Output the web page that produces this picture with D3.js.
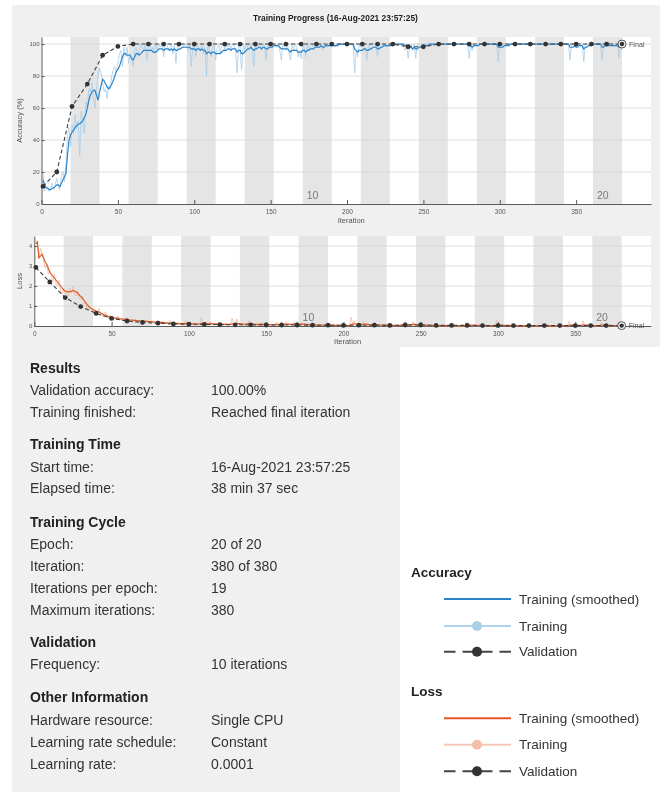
<!DOCTYPE html>
<html><head><meta charset="utf-8">
<script src="https://cdn.jsdelivr.net/npm/d3@7"></script>
<style>body{margin:0;background:#fff;} svg{display:block;font-family:"Liberation Sans",Arial,sans-serif;will-change:transform;}</style>
</head><body><svg id="c" width="664" height="792"></svg>
<script>
// ---------------- DATA ----------------
const itersPerEpoch = 19;
const maxEpochs = 20;
const epochLabels = [10, 20];
const accTicks = [0, 20, 40, 60, 80, 100];
const lossTicks = [0, 1, 2, 3, 4];
const iterTicks = [0, 50, 100, 150, 200, 250, 300, 350];

const accTrainRaw = [
 19, 8, 9, 11, 8, 10, 13, 9, 12, 16, 11, 9, 17, 20, 14, 25, 42, 48, 36,
 50, 44, 56, 47, 52, 30, 58, 50, 44, 64, 60, 72, 70, 76, 66, 60, 72, 80, 85,
 82, 76, 70, 72, 66, 74, 72, 80, 84, 86, 82, 88, 94, 96, 86, 98, 92, 98, 88,
 94, 90, 86, 96, 98, 92, 96, 100, 98, 96, 100, 90, 98, 100, 96, 98, 94, 100, 96,
 100, 98, 100, 92, 100, 100, 96, 98, 100, 94, 100, 88, 100, 98, 100, 100, 98, 100, 100,
 96, 100, 86, 98, 100, 92, 100, 98, 96, 100, 94, 98, 80, 100, 96, 92, 98, 100, 90,
 98, 100, 94, 100, 100, 96, 100, 98, 100, 96, 100, 100, 96, 82, 100, 98, 84, 100, 96,
 100, 98, 100, 100, 96, 86, 100, 98, 100, 100, 96, 100, 98, 90, 100, 100, 98, 100, 100,
 100, 98, 100, 96, 90, 100, 98, 96, 100, 94, 90, 100, 96, 100, 98, 92, 96, 91, 100,
 98, 92, 100, 96, 100, 100, 98, 100, 100, 98, 100, 100, 96, 100, 100, 98, 100, 100, 100,
 100, 98, 100, 100, 100, 100, 100, 100, 100, 100, 100, 100, 100, 100, 82, 96, 92, 100, 98,
 100, 100, 96, 90, 100, 98, 100, 100, 100, 98, 92, 100, 100, 100, 100, 100, 98, 100, 100,
 100, 100, 100, 100, 100, 100, 100, 100, 98, 96, 100, 91, 98, 100, 96, 100, 91, 100, 100,
 98, 100, 100, 100, 100, 100, 100, 100, 100, 100, 100, 100, 100, 100, 100, 100, 100, 100, 100,
 100, 100, 100, 100, 100, 100, 100, 100, 100, 100, 100, 100, 100, 91, 100, 96, 100, 100, 100,
 100, 100, 100, 100, 100, 100, 100, 100, 100, 100, 100, 100, 100, 89, 100, 98, 100, 100, 100,
 100, 100, 100, 100, 100, 100, 100, 100, 100, 100, 100, 100, 100, 100, 100, 100, 100, 100, 100,
 100, 100, 100, 100, 100, 100, 100, 100, 100, 100, 100, 100, 100, 100, 100, 100, 100, 100, 100,
 100, 100, 100, 90, 100, 100, 100, 98, 100, 100, 100, 100, 89, 100, 100, 100, 100, 100, 100,
 100, 100, 100, 100, 100, 90, 100, 100, 100, 100, 100, 100, 100, 100, 100, 100, 91, 100, 96
];
const accTrainSmooth = [
 15, 12, 10, 10, 9, 9, 10, 10, 11, 12, 12, 11, 13, 15, 17, 19, 30, 40, 43,
 45, 46, 48, 49, 50, 50, 51, 52, 54, 56, 60, 65, 68, 70, 71, 71, 68, 65, 70,
 74, 78, 77, 75, 73, 72, 73, 75, 77, 80, 83, 84, 86, 89, 92, 94, 94, 93, 93,
 93, 91, 90, 92, 94, 94, 93, 94, 95, 96, 96, 96, 96, 96, 96, 95, 95, 95, 96,
 97, 97, 97, 96, 97, 97, 97, 96, 97, 96, 97, 96, 96, 97, 97, 98, 98, 98, 98,
 98, 98, 97, 97, 97, 96, 97, 97, 96, 97, 96, 96, 94, 95, 95, 94, 95, 95, 94,
 94, 94, 94, 95, 96, 96, 96, 97, 97, 96, 97, 97, 97, 95, 96, 96, 94, 94, 95,
 96, 97, 97, 98, 97, 96, 97, 97, 98, 98, 97, 98, 98, 97, 97, 98, 98, 98, 99,
 99, 99, 99, 98, 97, 97, 97, 97, 97, 96, 95, 96, 96, 96, 96, 95, 95, 95, 96,
 96, 95, 96, 96, 97, 97, 97, 98, 98, 98, 98, 99, 98, 98, 99, 99, 99, 99, 99,
 99, 99, 99, 99, 100, 100, 100, 100, 100, 100, 100, 100, 100, 100, 97, 96, 95, 96, 96,
 96, 97, 97, 96, 96, 97, 97, 98, 98, 98, 97, 97, 98, 98, 99, 99, 99, 99, 99,
 99, 100, 100, 100, 100, 100, 100, 100, 100, 99, 99, 98, 98, 98, 97, 98, 97, 97, 98,
 98, 98, 98, 99, 99, 99, 100, 100, 100, 100, 100, 100, 100, 100, 100, 100, 100, 100, 100,
 100, 100, 100, 100, 100, 100, 100, 100, 100, 100, 100, 100, 100, 99, 99, 98, 99, 99, 99,
 99, 100, 100, 100, 100, 100, 100, 100, 100, 100, 100, 100, 100, 98, 98, 98, 98, 99, 99,
 99, 99, 100, 100, 100, 100, 100, 100, 100, 100, 100, 100, 100, 100, 100, 100, 100, 100, 100,
 100, 100, 100, 100, 100, 100, 100, 100, 100, 100, 100, 100, 100, 100, 100, 100, 100, 100, 100,
 100, 100, 100, 98, 98, 98, 99, 98, 98, 99, 99, 99, 97, 98, 98, 99, 99, 99, 100,
 100, 100, 100, 100, 100, 98, 98, 99, 99, 99, 99, 99, 99, 99, 99, 99, 98, 98, 98
];
const lossTrainRaw = [
 4.3, 4.1, 3.4, 3.9, 3.6, 3.3, 2.9, 3.1, 2.6, 2.8, 2.5, 2.2, 2.6, 2.1, 2.0, 2.3, 1.7, 1.6, 1.9,
 1.6, 1.8, 1.5, 1.9, 1.7, 2.0, 1.6, 1.5, 1.8, 1.4, 1.3, 1.5, 1.1, 1.2, 0.9, 1.0, 0.8, 0.9, 0.7,
 0.8, 0.6, 0.75, 0.9, 0.5, 0.6, 0.45, 0.7, 0.5, 0.35, 0.55, 0.4, 0.3, 0.45, 0.35, 0.5, 0.3, 0.4, 0.25,
 0.35, 0.25, 0.4, 0.2, 0.3, 0.25, 0.2, 0.35, 0.15, 0.25, 0.3, 0.2, 0.15, 0.25, 0.2, 0.3, 0.15, 0.2, 0.25,
 0.1, 0.2, 0.15, 0.3, 0.1, 0.15, 0.2, 0.12, 0.1, 0.2, 0.08, 0.3, 0.1, 0.12, 0.08, 0.1, 0.15, 0.07, 0.1,
 0.15, 0.06, 0.3, 0.08, 0.05, 0.2, 0.07, 0.1, 0.12, 0.05, 0.15, 0.08, 0.45, 0.06, 0.1, 0.2, 0.08, 0.05, 0.25,
 0.06, 0.04, 0.12, 0.05, 0.04, 0.1, 0.05, 0.06, 0.04, 0.12, 0.05, 0.06, 0.1, 0.4, 0.05, 0.08, 0.35, 0.06, 0.1,
 0.05, 0.06, 0.04, 0.05, 0.1, 0.3, 0.04, 0.06, 0.03, 0.05, 0.1, 0.04, 0.06, 0.2, 0.03, 0.04, 0.06, 0.03, 0.04,
 0.03, 0.05, 0.03, 0.1, 0.2, 0.03, 0.05, 0.1, 0.03, 0.15, 0.22, 0.04, 0.1, 0.03, 0.06, 0.2, 0.1, 0.22, 0.04,
 0.05, 0.18, 0.04, 0.1, 0.03, 0.02, 0.06, 0.02, 0.03, 0.05, 0.02, 0.03, 0.1, 0.02, 0.02, 0.05, 0.02, 0.02, 0.03,
 0.02, 0.05, 0.02, 0.02, 0.01, 0.02, 0.02, 0.01, 0.02, 0.01, 0.02, 0.02, 0.01, 0.02, 0.45, 0.12, 0.25, 0.03, 0.08,
 0.02, 0.03, 0.1, 0.25, 0.02, 0.05, 0.02, 0.02, 0.01, 0.05, 0.2, 0.02, 0.02, 0.01, 0.02, 0.01, 0.05, 0.02, 0.01,
 0.01, 0.02, 0.01, 0.01, 0.02, 0.01, 0.01, 0.02, 0.05, 0.1, 0.02, 0.25, 0.05, 0.02, 0.1, 0.02, 0.22, 0.02, 0.03,
 0.05, 0.02, 0.01, 0.02, 0.01, 0.01, 0.02, 0.01, 0.01, 0.02, 0.01, 0.01, 0.01, 0.02, 0.01, 0.01, 0.01, 0.01, 0.02,
 0.01, 0.01, 0.02, 0.01, 0.01, 0.01, 0.01, 0.02, 0.01, 0.01, 0.01, 0.01, 0.03, 0.2, 0.02, 0.1, 0.02, 0.01, 0.01,
 0.01, 0.01, 0.01, 0.01, 0.01, 0.01, 0.01, 0.01, 0.01, 0.01, 0.01, 0.01, 0.01, 0.28, 0.02, 0.06, 0.01, 0.01, 0.02,
 0.01, 0.02, 0.01, 0.01, 0.01, 0.01, 0.02, 0.01, 0.01, 0.01, 0.01, 0.01, 0.01, 0.02, 0.01, 0.01, 0.01, 0.01, 0.01,
 0.01, 0.01, 0.01, 0.01, 0.01, 0.01, 0.01, 0.01, 0.01, 0.01, 0.01, 0.01, 0.01, 0.01, 0.01, 0.01, 0.01, 0.01, 0.01,
 0.01, 0.01, 0.01, 0.25, 0.01, 0.02, 0.01, 0.06, 0.01, 0.01, 0.01, 0.01, 0.26, 0.02, 0.01, 0.01, 0.01, 0.01, 0.01,
 0.01, 0.01, 0.01, 0.01, 0.01, 0.24, 0.02, 0.01, 0.01, 0.01, 0.01, 0.01, 0.01, 0.01, 0.01, 0.01, 0.22, 0.02, 0.1
];
const lossTrainSmooth = [
 4.1, 4.2, 3.4, 3.5, 3.6, 3.4, 3.2, 3.1, 2.9, 2.7, 2.6, 2.5, 2.4, 2.3, 2.2, 2.1, 2.0, 1.9, 1.8,
 1.75, 1.72, 1.7, 1.72, 1.72, 1.78, 1.75, 1.7, 1.65, 1.55, 1.48, 1.4, 1.3, 1.2, 1.08, 1.0, 0.92, 0.88, 0.82,
 0.78, 0.74, 0.72, 0.7, 0.65, 0.61, 0.56, 0.55, 0.51, 0.47, 0.45, 0.43, 0.41, 0.4, 0.39, 0.39, 0.37, 0.36, 0.35,
 0.34, 0.33, 0.33, 0.31, 0.3, 0.3, 0.28, 0.28, 0.27, 0.26, 0.26, 0.25, 0.24, 0.24, 0.23, 0.23, 0.22, 0.22, 0.22,
 0.21, 0.2, 0.19, 0.2, 0.19, 0.18, 0.18, 0.17, 0.16, 0.16, 0.15, 0.16, 0.15, 0.15, 0.14, 0.13, 0.13, 0.12, 0.12,
 0.12, 0.11, 0.13, 0.12, 0.11, 0.12, 0.11, 0.11, 0.11, 0.1, 0.1, 0.1, 0.13, 0.12, 0.12, 0.13, 0.12, 0.11, 0.12,
 0.12, 0.11, 0.11, 0.1, 0.1, 0.1, 0.09, 0.09, 0.08, 0.09, 0.08, 0.08, 0.08, 0.11, 0.1, 0.1, 0.13, 0.12, 0.12,
 0.11, 0.1, 0.1, 0.09, 0.09, 0.11, 0.1, 0.1, 0.09, 0.08, 0.08, 0.08, 0.08, 0.09, 0.08, 0.08, 0.07, 0.07, 0.07,
 0.07, 0.06, 0.06, 0.07, 0.08, 0.07, 0.07, 0.07, 0.07, 0.08, 0.09, 0.09, 0.09, 0.08, 0.08, 0.09, 0.09, 0.1, 0.1,
 0.09, 0.1, 0.09, 0.09, 0.08, 0.08, 0.07, 0.07, 0.06, 0.06, 0.06, 0.05, 0.06, 0.05, 0.05, 0.05, 0.05, 0.04, 0.04,
 0.04, 0.04, 0.04, 0.04, 0.03, 0.03, 0.03, 0.03, 0.03, 0.02, 0.02, 0.02, 0.02, 0.02, 0.08, 0.09, 0.11, 0.1, 0.1,
 0.09, 0.08, 0.08, 0.1, 0.09, 0.09, 0.08, 0.07, 0.06, 0.06, 0.08, 0.07, 0.06, 0.06, 0.05, 0.05, 0.05, 0.04, 0.04,
 0.04, 0.03, 0.03, 0.03, 0.03, 0.02, 0.02, 0.02, 0.03, 0.04, 0.04, 0.06, 0.06, 0.06, 0.07, 0.06, 0.08, 0.08, 0.07,
 0.07, 0.06, 0.06, 0.05, 0.05, 0.04, 0.04, 0.04, 0.03, 0.03, 0.03, 0.03, 0.02, 0.02, 0.02, 0.02, 0.02, 0.02, 0.02,
 0.02, 0.02, 0.02, 0.02, 0.02, 0.01, 0.01, 0.01, 0.01, 0.01, 0.01, 0.01, 0.01, 0.04, 0.04, 0.05, 0.04, 0.04, 0.04,
 0.03, 0.03, 0.03, 0.02, 0.02, 0.02, 0.02, 0.02, 0.02, 0.02, 0.01, 0.01, 0.01, 0.05, 0.05, 0.05, 0.04, 0.04, 0.03,
 0.03, 0.03, 0.03, 0.02, 0.02, 0.02, 0.02, 0.02, 0.02, 0.02, 0.01, 0.01, 0.01, 0.01, 0.01, 0.01, 0.01, 0.01, 0.01,
 0.01, 0.01, 0.01, 0.01, 0.01, 0.01, 0.01, 0.01, 0.01, 0.01, 0.01, 0.01, 0.01, 0.01, 0.01, 0.01, 0.01, 0.01, 0.01,
 0.01, 0.01, 0.01, 0.05, 0.04, 0.04, 0.03, 0.04, 0.03, 0.03, 0.03, 0.02, 0.06, 0.05, 0.05, 0.04, 0.03, 0.03, 0.03,
 0.02, 0.02, 0.02, 0.02, 0.02, 0.06, 0.05, 0.04, 0.04, 0.03, 0.03, 0.03, 0.02, 0.02, 0.02, 0.02, 0.06, 0.05, 0.06
];
const valIter = [1, 10, 20, 30, 40, 50, 60, 70, 80, 90, 100, 110, 120, 130, 140, 150, 160, 170, 180, 190,
 200, 210, 220, 230, 240, 250, 260, 270, 280, 290, 300, 310, 320, 330, 340, 350, 360, 370, 380];
const valAcc = [11, 20, 61, 75, 93, 98.5, 100, 100, 100, 100, 100, 100, 100, 100, 100, 100, 100, 100, 100, 100,
 100, 100, 100, 100, 98.3, 98.3, 100, 100, 100, 100, 100, 100, 100, 100, 100, 100, 100, 100, 100];
const valLoss = [2.93, 2.2, 1.42, 0.97, 0.63, 0.38, 0.25, 0.18, 0.14, 0.1, 0.09, 0.08, 0.07, 0.06, 0.06, 0.05, 0.05, 0.05, 0.04, 0.04,
 0.03, 0.04, 0.04, 0.03, 0.05, 0.05, 0.03, 0.03, 0.03, 0.02, 0.02, 0.02, 0.02, 0.02, 0.02, 0.02, 0.02, 0.02, 0.02];

const infoSections = [
 {title: "Results", y: 368.3, rows: [["Validation accuracy:", "100.00%", 390], ["Training finished:", "Reached final iteration", 412.3]]},
 {title: "Training Time", y: 444.3, rows: [["Start time:", "16-Aug-2021 23:57:25", 466.7], ["Elapsed time:", "38 min 37 sec", 488.3]]},
 {title: "Training Cycle", y: 521.7, rows: [["Epoch:", "20 of 20", 544], ["Iteration:", "380 of 380", 566], ["Iterations per epoch:", "19", 588.3], ["Maximum iterations:", "380", 610]]},
 {title: "Validation", y: 642.3, rows: [["Frequency:", "10 iterations", 664.3]]},
 {title: "Other Information", y: 697.3, rows: [["Hardware resource:", "Single CPU", 720], ["Learning rate schedule:", "Constant", 742], ["Learning rate:", "0.0001", 764]]}
];

// ---------------- DRAW ----------------
const svg = d3.select("#c");
const FONT = '"Liberation Sans", Arial, sans-serif';
svg.append("rect").attr("x", 12).attr("y", 5).attr("width", 648).attr("height", 342).attr("fill", "#f0f0f0");
svg.append("rect").attr("x", 12).attr("y", 347).attr("width", 388).attr("height", 445).attr("fill", "#f0f0f0");

svg.append("text").attr("x", 335.5).attr("y", 21).attr("text-anchor", "middle")
  .attr("font-size", 8.4).attr("font-weight", "bold").attr("fill", "#222")
  .text("Training Progress (16-Aug-2021 23:57:25)");

const xMax = 399;
const epochs = d3.range(1, maxEpochs + 1);

function panel(cfg) {
  const x = d3.scaleLinear().domain([0, xMax]).range([cfg.x0, cfg.x1]);
  const y = d3.scaleLinear().domain(cfg.yDomain).range([cfg.y1, cfg.y0]);
  const g = svg.append("g");
  g.append("rect").attr("x", cfg.x0).attr("y", cfg.y0).attr("width", cfg.x1 - cfg.x0)
    .attr("height", cfg.y1 - cfg.y0).attr("fill", "#fff");
  g.selectAll("rect.band").data(epochs.filter(e => e % 2 === 0)).join("rect").attr("class", "band")
    .attr("x", e => x((e - 1) * itersPerEpoch)).attr("width", e => x(e * itersPerEpoch) - x((e - 1) * itersPerEpoch))
    .attr("y", cfg.y0).attr("height", cfg.y1 - cfg.y0).attr("fill", "#e5e5e5");
  g.selectAll("line.grid").data(cfg.ticks.filter(t => t > 0)).join("line").attr("class", "grid")
    .attr("x1", cfg.x0).attr("x2", cfg.x1).attr("y1", d => y(d)).attr("y2", d => y(d))
    .attr("stroke", "#d6d6d6").attr("stroke-width", 0.8);
  g.selectAll("text.ep").data(epochLabels).join("text").attr("class", "ep")
    .attr("x", e => x((e - 1) * itersPerEpoch) + 4).attr("y", cfg.y1 - 5)
    .attr("font-size", 10.5).attr("fill", "#7a7a7a").text(d => d);

  const xa = d3.axisBottom(x).tickValues(iterTicks).tickFormat(d3.format("d")).tickSize(-4).tickSizeOuter(0).tickPadding(5);
  const ga = g.append("g").attr("transform", `translate(0,${cfg.y1})`).call(xa);
  ga.select(".domain").attr("stroke", "#5a5a5a");
  ga.selectAll(".tick line").attr("stroke", "#5a5a5a");
  ga.selectAll("text").attr("font-size", 6.5).attr("fill", "#555").attr("font-family", FONT);
  const ya = d3.axisLeft(y).tickValues(cfg.ticks).tickFormat(d3.format("d")).tickSize(-3).tickSizeOuter(0).tickPadding(2);
  const gy = g.append("g").attr("transform", `translate(${cfg.x0},0)`).call(ya);
  gy.select(".domain").attr("stroke", "#5a5a5a");
  gy.selectAll(".tick line").attr("stroke", "#5a5a5a");
  gy.selectAll("text").attr("font-size", 6).attr("fill", "#555").attr("font-family", FONT);

  g.append("text").attr("x", (cfg.x0 + cfg.x1) / 2 + 5).attr("y", cfg.xLabelY).attr("text-anchor", "middle")
    .attr("font-size", 7.5).attr("fill", "#555").text("Iteration");
  g.append("text").attr("transform", `translate(${cfg.yLabelX},${(cfg.y0 + cfg.y1) / 2}) rotate(-90)`)
    .attr("text-anchor", "middle").attr("font-size", 7.5).attr("fill", "#555").text(cfg.yLabel);

  const line = d3.line().x((d, i) => x(i + 1)).y(d => y(d));
  g.append("path").datum(cfg.raw).attr("d", line).attr("fill", "none")
    .attr("stroke", cfg.rawColor).attr("stroke-width", 0.8);
  g.append("path").datum(cfg.smooth).attr("d", line).attr("fill", "none")
    .attr("stroke", cfg.smoothColor).attr("stroke-width", 1.2);
  const vline = d3.line().x((d, i) => x(valIter[i])).y(d => y(d));
  g.append("path").datum(cfg.val).attr("d", vline).attr("fill", "none")
    .attr("stroke", "#404040").attr("stroke-width", 1.1).attr("stroke-dasharray", "4,2.5");
  g.selectAll("circle.v").data(cfg.val.slice(0, -1)).join("circle").attr("class", "v")
    .attr("cx", (d, i) => x(valIter[i])).attr("cy", d => y(d)).attr("r", 2.4).attr("fill", "#333");
  const last = cfg.val.length - 1;
  const fx = x(valIter[last]), fy = y(cfg.val[last]);
  g.append("circle").attr("cx", fx).attr("cy", fy).attr("r", 4).attr("fill", "#f4f4f4")
    .attr("stroke", "#444").attr("stroke-width", 0.9);
  g.append("circle").attr("cx", fx).attr("cy", fy).attr("r", 2.2).attr("fill", "#333");
  g.append("text").attr("x", fx + 7).attr("y", fy).attr("dy", "0.35em").attr("font-size", 7.2)
    .attr("fill", "#555").text("Final");
}

panel({x0: 41.5, x1: 651, y0: 37, y1: 204, yDomain: [0, 104.4], ticks: accTicks,
  raw: accTrainRaw, smooth: accTrainSmooth, val: valAcc, rawColor: "#a7cdea", smoothColor: "#2a84cc",
  yLabel: "Accuracy (%)", yLabelX: 22, xLabelY: 223});
panel({x0: 34.3, x1: 651, y0: 236, y1: 326, yDomain: [0, 4.5], ticks: lossTicks,
  raw: lossTrainRaw, smooth: lossTrainSmooth, val: valLoss, rawColor: "#f4bda6", smoothColor: "#dd5a26",
  yLabel: "Loss", yLabelX: 22, xLabelY: 344});

// info panel
const info = svg.append("g").attr("font-family", FONT);
infoSections.forEach(s => {
  info.append("text").attr("x", 30).attr("y", s.y).attr("dy", "0.35em").attr("font-size", 14)
    .attr("font-weight", "bold").attr("fill", "#222").text(s.title);
  s.rows.forEach(r => {
    info.append("text").attr("x", 30).attr("y", r[2]).attr("dy", "0.35em").attr("font-size", 14)
      .attr("fill", "#333").text(r[0]);
    info.append("text").attr("x", 211).attr("y", r[2]).attr("dy", "0.35em").attr("font-size", 14)
      .attr("fill", "#333").text(r[1]);
  });
});

// legend
const legendGroups = [
  {title: "Accuracy", y: 572.7, ys: [599, 626, 651.7], main: "#2a84cc", light: "#b0d4ee", dot: "#a9cfe9"},
  {title: "Loss", y: 691.7, ys: [718.3, 744.7, 771.3], main: "#e0582a", light: "#f6c8b6", dot: "#f3bfa9"}
];
const lg = svg.append("g").attr("font-family", FONT);
legendGroups.forEach(G => {
  lg.append("text").attr("x", 411).attr("y", G.y).attr("dy", "0.35em").attr("font-size", 13.5)
    .attr("font-weight", "bold").attr("fill", "#222").text(G.title);
  lg.append("line").attr("x1", 444).attr("x2", 511).attr("y1", G.ys[0]).attr("y2", G.ys[0])
    .attr("stroke", G.main).attr("stroke-width", 2);
  lg.append("line").attr("x1", 444).attr("x2", 511).attr("y1", G.ys[1]).attr("y2", G.ys[1])
    .attr("stroke", G.light).attr("stroke-width", 2);
  lg.append("circle").attr("cx", 477).attr("cy", G.ys[1]).attr("r", 5).attr("fill", G.dot);
  lg.append("line").attr("x1", 444).attr("x2", 511).attr("y1", G.ys[2]).attr("y2", G.ys[2])
    .attr("stroke", "#444").attr("stroke-width", 2).attr("stroke-dasharray", "11.5,7");
  lg.append("circle").attr("cx", 477).attr("cy", G.ys[2]).attr("r", 5).attr("fill", "#333");
  ["Training (smoothed)", "Training", "Validation"].forEach((t, i) => {
    lg.append("text").attr("x", 519).attr("y", G.ys[i]).attr("dy", "0.35em").attr("font-size", 13.5)
      .attr("fill", "#333").text(t);
  });
});
</script></body></html>
